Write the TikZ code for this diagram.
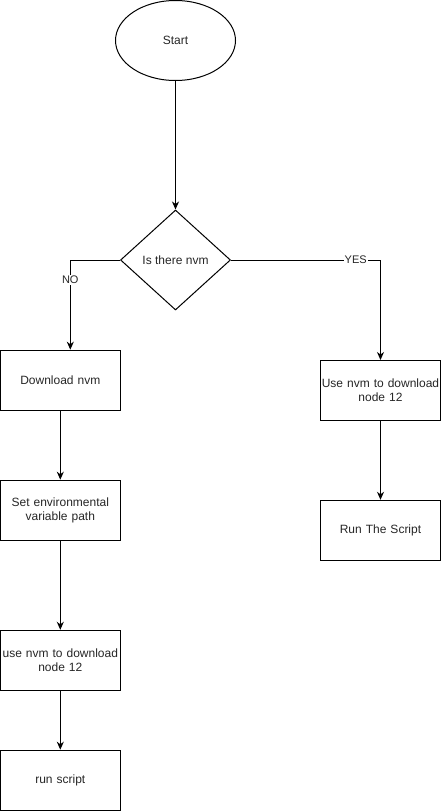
\documentclass[tikz,border=0pt]{standalone}
\usepackage{fontspec}
\setmainfont{Liberation Sans}
\usetikzlibrary{shapes.geometric,arrows.meta}
\begin{document}
\begin{tikzpicture}[x=1pt,y=-1pt,line width=1pt,
  every node/.style={font=\fontsize{12}{14}\selectfont, text=black!85},
  stepbox/.style={draw, rectangle, minimum width=120pt, minimum height=60pt, inner sep=0pt, align=center, text width=118pt},
  startnode/.style={draw, ellipse, minimum width=120pt, minimum height=80pt, inner sep=0pt},
  decision/.style={draw, diamond, minimum width=110pt, minimum height=100pt, inner sep=0pt},
  arr/.style={draw, -{Stealth[length=8pt,width=7pt,inset=2.5pt]}},
  lbl/.style={fill=white, inner sep=1pt, font=\fontsize{11}{13}\selectfont}]
\useasboundingbox (0,0) rectangle (441,811);
\node[startnode] (start) at (175.5,40.5) {Start};
\node[decision] (dec) at (175.5,260) {Is there nvm};
\node[stepbox] (dl) at (60.3,380.2) {Download nvm};
\node[stepbox] (se) at (60.3,510.2) {Set environmental\\variable path};
\node[stepbox] (ul) at (60.3,660.3) {use nvm to download\\node 12};
\node[stepbox] (rs) at (60.3,780.2) {run script};
\node[stepbox] (ur) at (380.5,390.5) {Use nvm to download\\node 12};
\node[stepbox] (rt) at (380.5,530.3) {Run The Script};
\draw[arr] (start) -- (dec);
\draw[arr] (dec.west) -| node[lbl, pos=0.61] {NO} ([xshift=10pt]dl.north);
\draw[arr] (dec.east) -| node[lbl, pos=0.417] {YES} (ur.north);
\draw[arr] (dl) -- (se);
\draw[arr] (se) -- (ul);
\draw[arr] (ul) -- (rs);
\draw[arr] (ur) -- (rt);
\end{tikzpicture}
\end{document}
